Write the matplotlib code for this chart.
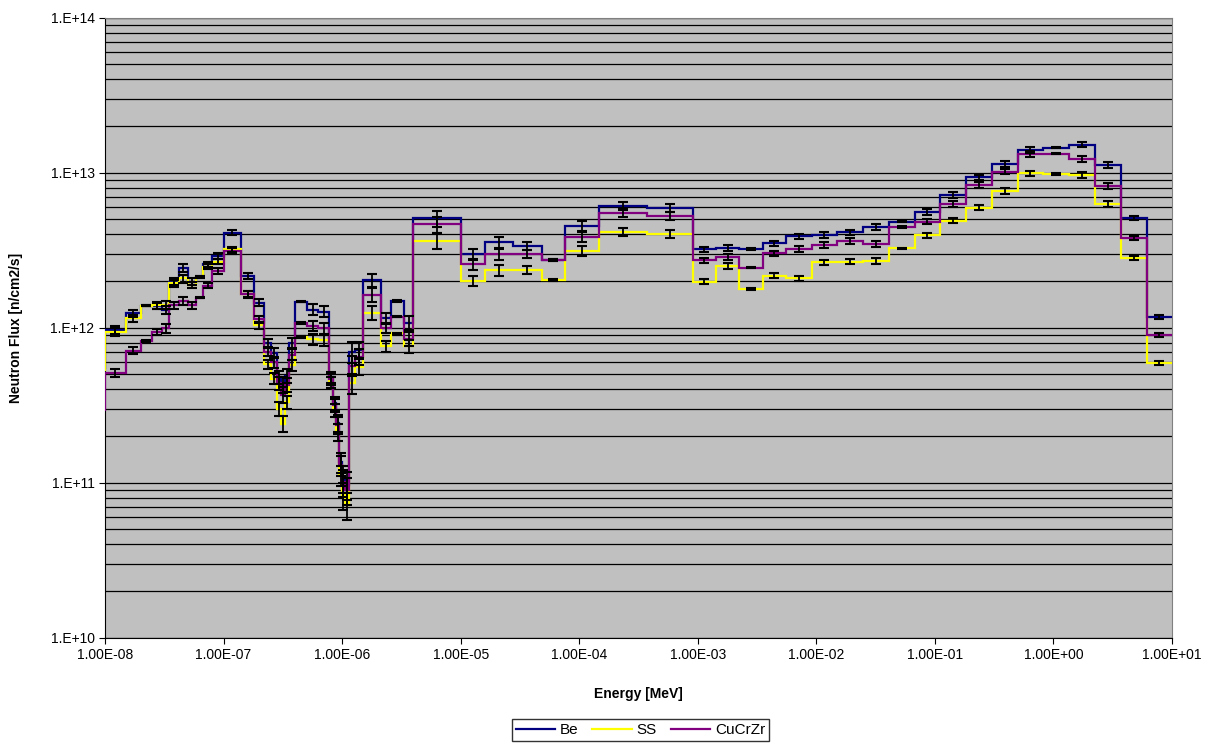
"""
Neutron flux spectrum for Be, SS and CuCrZr (step histogram with error bars).
"""
import matplotlib
matplotlib.use("Agg")
import matplotlib.pyplot as plt
import numpy as np
from matplotlib.ticker import FixedLocator, FuncFormatter, NullLocator, LogLocator

# ---------------------------------------------------------------------------
# Data (energies in MeV, flux in n/cm2/s), first bin lies below the axis range
# ---------------------------------------------------------------------------

energy_edges = [
    5e-9, 1.0e-8, 1.5e-8, 2.0e-8, 2.5e-8, 3.0e-8, 3.5e-8, 4.2e-8, 5.0e-8, 5.85e-8,
    6.75e-8, 8.0e-8, 1.0e-7, 1.4e-7, 1.82e-7, 2.21e-7, 2.51e-7, 2.81e-7, 3.05e-7,
    3.30e-7, 3.56e-7, 4.01e-7, 5.03e-7, 6.30e-7, 7.80e-7, 8.43e-7, 8.93e-7, 9.47e-7,
    9.98e-7, 1.057e-6, 1.15e-6, 1.28e-6, 1.49e-6, 2.13e-6, 2.58e-6, 3.33e-6, 3.98e-6,
    1.0e-5, 1.6e-5, 2.78e-5, 4.82e-5, 7.59e-5, 1.48e-4, 3.71e-4, 9.06e-4, 1.43e-3,
    2.24e-3, 3.53e-3, 5.55e-3, 9.14e-3, 1.50e-2, 2.49e-2, 4.10e-2, 6.75e-2, 0.110,
    0.183, 0.303, 0.499, 0.820, 1.35, 2.23, 3.69, 6.11, 10.0,
]

flux_be = [
    5.5e11,
    9.7e11, 1.24e12, 1.39e12, 1.38e12, 1.30e12, 1.98e12, 2.44e12, 1.98e12, 2.13e12, 2.56e12, 2.91e12,
    4.11e12, 2.16e12, 1.45e12, 8.0e11, 6.9e11, 4.8e11, 4.3e11, 4.9e11, 8.0e11, 1.47e12, 1.31e12, 1.27e12,
    4.8e11, 3.27e11, 2.43e11, 1.36e11, 1.07e11,
    9.7e10, 7.0e11, 7.2e11, 2.03e12, 1.15e12, 1.49e12, 1.08e12, 5.08e12,
    2.99e12, 3.56e12, 3.38e12, 2.73e12, 4.55e12,
    6.12e12, 5.94e12, 3.21e12,
    3.28e12, 3.22e12, 3.50e12, 3.89e12, 3.96e12,
    4.13e12, 4.48e12, 4.83e12, 5.60e12,
    7.18e12, 9.34e12, 1.14e13, 1.40e13, 1.45e13,
    1.52e13, 1.12e13, 5.1e12, 1.17e12,
]

flux_ss = [
    5.3e11,
    9.4e11, 1.15e12, 1.39e12, 1.40e12, 1.40e12, 1.93e12, 2.08e12, 1.89e12, 2.13e12, 2.48e12, 2.67e12,
    3.20e12, 1.64e12, 1.04e12, 5.8e11, 4.7e11, 3.0e11, 2.4e11, 3.3e11, 5.75e11, 8.7e11, 8.4e11, 8.3e11,
    4.47e11, 2.94e11, 2.12e11, 1.12e11, 8.3e10,
    7.2e10, 4.4e11, 5.6e11, 1.25e12, 7.6e11, 9.2e11, 7.6e11, 3.65e12,
    2.01e12, 2.36e12, 2.36e12, 2.03e12, 3.13e12,
    4.16e12, 4.02e12, 1.98e12,
    2.50e12, 1.78e12, 2.17e12, 2.08e12, 2.64e12,
    2.67e12, 2.69e12, 3.25e12, 3.95e12,
    4.90e12, 5.95e12, 7.65e12, 9.91e12, 9.8e12,
    9.7e12, 6.28e12, 2.83e12, 5.94e11,
]

flux_cucrzr = [
    2.94e11,
    5.1e11, 7.1e11, 8.2e11, 9.4e11, 9.9e11, 1.40e12, 1.49e12, 1.40e12, 1.56e12, 1.87e12, 2.32e12,
    3.13e12, 1.65e12, 1.13e12, 7.0e11, 6.0e11, 4.4e11, 3.7e11, 4.3e11, 6.7e11, 1.07e12, 1.03e12, 9.9e11,
    4.66e11, 3.17e11, 2.36e11, 1.30e11, 1.01e11,
    9.0e10, 5.7e11, 6.5e11, 1.63e12, 1.0e12, 1.18e12, 8.5e11, 4.65e12,
    2.58e12, 2.98e12, 2.98e12, 2.73e12, 3.86e12,
    5.52e12, 5.28e12, 2.72e12,
    2.87e12, 2.44e12, 3.02e12, 3.23e12, 3.42e12,
    3.64e12, 3.48e12, 4.46e12, 4.83e12,
    6.28e12, 8.33e12, 1.015e13, 1.32e13, 1.33e13,
    1.23e13, 8.24e12, 3.81e12, 8.97e11,
]

# relative statistical error per energy bin (shared by the three materials)
rel_err = [
    0.05,
    0.06, 0.05, 0.01, 0.05, 0.06, 0.05, 0.06, 0.05, 0.01, 0.04, 0.04,
    0.04, 0.05, 0.05, 0.06, 0.08, 0.10, 0.12, 0.10, 0.08, 0.01, 0.08, 0.08,
    0.08, 0.10, 0.12, 0.15, 0.20,
    0.20, 0.15, 0.12, 0.10, 0.08, 0.01, 0.10, 0.12,
    0.08, 0.08, 0.06, 0.01, 0.07,
    0.06, 0.06, 0.04,
    0.04, 0.01, 0.04, 0.04, 0.04,
    0.04, 0.04, 0.01, 0.04,
    0.04, 0.04, 0.04, 0.04, 0.01,
    0.04, 0.04, 0.03, 0.03,
]

series = [
    ("Be", flux_be, "#000080"),
    ("SS", flux_ss, "#FFFF00"),
    ("CuCrZr", flux_cucrzr, "#800080"),
]

x_ticks = [10.0 ** p for p in range(-8, 2)]
y_ticks = [10.0 ** p for p in range(10, 15)]

# ---------------------------------------------------------------------------
# Plot
# ---------------------------------------------------------------------------

plt.rcParams["font.family"] = ["Liberation Sans", "DejaVu Sans"]
plt.rcParams["font.size"] = 10

fig = plt.figure(figsize=(12.22, 7.46), dpi=100)
ax = fig.add_axes([0.0859, 0.1452, 0.8732, 0.8310])
ax.set_facecolor("#C0C0C0")

edges = np.array(energy_edges)
centres = np.sqrt(edges[:-1] * edges[1:])
err = np.array(rel_err)

for name, flux, colour in series:
    ax.stairs(flux, edges, baseline=None, color=colour, linewidth=1.6, label=name, zorder=3)

for name, flux, colour in series:
    f = np.array(flux)
    ax.errorbar(centres, f, yerr=f * err, fmt="none", ecolor="black",
                elinewidth=1.3, capsize=3.5, capthick=1.5, zorder=4)

ax.set_xscale("log")
ax.set_yscale("log")
ax.set_xlim(1e-8, 10)
ax.set_ylim(1e10, 1e14)

ax.xaxis.set_major_locator(FixedLocator(x_ticks))
ax.xaxis.set_minor_locator(NullLocator())
ax.xaxis.set_major_formatter(FuncFormatter(lambda v, _: f"{v:.2E}"))

ax.yaxis.set_major_locator(FixedLocator(y_ticks))
ax.yaxis.set_minor_locator(LogLocator(base=10, subs=np.arange(2, 10), numticks=50))
ax.yaxis.set_major_formatter(FuncFormatter(lambda v, _: f"1.E+{int(round(np.log10(v))):02d}"))

ax.grid(True, axis="y", which="both", color="black", linewidth=0.9, zorder=1)
ax.set_axisbelow(True)
ax.tick_params(axis="y", which="minor", length=0)
ax.tick_params(axis="both", which="major", length=4, direction="out", labelsize=10)

for side in ("top", "right"):
    ax.spines[side].set_color("#808080")
for side in ("left", "bottom"):
    ax.spines[side].set_color("black")

ax.set_xlabel("Energy [MeV]", fontweight="bold", fontsize=10, labelpad=18)
ax.set_ylabel("Neutron Flux [n/cm2/s]", fontweight="bold", fontsize=10, labelpad=20)

fig.legend(loc="center", bbox_to_anchor=(0.524, 0.0214), ncol=3, frameon=True,
           fancybox=False, edgecolor="black", fontsize=11, handlelength=2.6,
           handletextpad=0.3, columnspacing=0.9, borderpad=0.25)

fig.savefig("out.png", dpi=100, facecolor="white")
